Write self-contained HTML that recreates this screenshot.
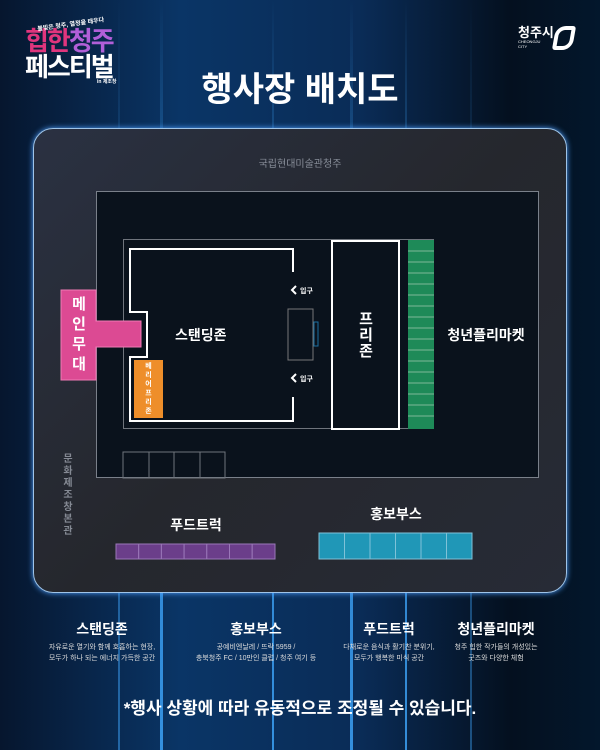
<!DOCTYPE html>
<html><head><meta charset="utf-8"><style>
*{margin:0;padding:0;box-sizing:border-box}
body{width:600px;height:750px;overflow:hidden;position:relative;background:linear-gradient(90deg,#06162e 0%,#0a3566 30%,#0a2c57 60%,#04101f 85%,#03172c 100%);font-family:"Liberation Sans","Noto Sans CJK KR",sans-serif;color:#fff}
.a{position:absolute}
.c{display:flex;align-items:center;justify-content:center}
.beam{position:absolute;top:0;height:750px;width:2px;background:linear-gradient(#3fa8ff00,#3fa8ffaa,#3fa8ffcc)}
.b{font-weight:bold}
</style></head><body>
<div class="beam" style="left:118px;opacity:.6"></div>
<div class="beam" style="left:160px;width:3px"></div>
<div class="beam" style="left:272px"></div>
<div class="beam" style="left:350px;width:3px"></div>
<div class="beam" style="left:405px"></div>
<div class="beam" style="left:470px;opacity:.5"></div>
<div class="a b" style="left:25px;top:20px;width:110px;line-height:1">
<div style="font-size:6px;color:#fff;margin-left:12px;transform:rotate(-8deg)">불빛은 청주, 열정을 태우다</div>
<div style="font-size:26px;color:#e0357d;letter-spacing:-2px;margin-top:2px">힙한<span style="color:#b15fd8">청주</span></div>
<div style="font-size:26px;color:#fff;letter-spacing:-2px">페스티벌</div>
<div style="font-size:5px;margin-left:72px">in 제조창</div>
</div>
<div class="a b" style="left:518px;top:22px;font-size:13px">청주시</div>
<div class="a" style="left:518px;top:39px;font-size:4px;line-height:5px">CHEONGJU<br>CITY</div>
<div class="a" style="left:554px;top:26px;width:20px;height:24px;border:4px solid #fff;border-radius:10px 3px 10px 3px;transform:skew(-10deg)"></div>
<div class="a b c" style="left:0;top:62px;width:600px;font-size:34px">행사장 배치도</div>
<div class="a" style="left:33px;top:128px;width:534px;height:465px;border-radius:20px;background:linear-gradient(135deg,#2a3142,#25272d 50%,#272b36);border:1.5px solid #9fc4e8;box-shadow:0 0 6px #4fa0ff"></div>
<div class="a c" style="left:33px;top:155px;width:534px;font-size:10px;color:#888e99">국립현대미술관청주</div>
<div class="a" style="left:96px;top:191px;width:443px;height:287px;background:#0a121c;border:1px solid #7a808a"></div>
<div class="a" style="left:123px;top:239px;width:311px;height:190px;border:1px solid #6f747c"></div>
<svg class="a" style="left:0;top:0" width="600" height="750">
<polyline points="293,272 293,249 130,249 130,312 147,312 147,357 130,357 130,421 293,421 293,397" fill="none" stroke="#fff" stroke-width="2"/>
<rect x="288" y="309" width="25" height="51" fill="none" stroke="#777" stroke-width="1"/>
<rect x="314" y="322" width="4" height="24" fill="none" stroke="#1b6fa0" stroke-width="1"/>
<path d="M296 286 l-4 4 4 4" fill="none" stroke="#fff" stroke-width="2"/>
<path d="M296 374 l-4 4 4 4" fill="none" stroke="#fff" stroke-width="2"/>
<rect x="332" y="241" width="67" height="188" fill="none" stroke="#fff" stroke-width="2"/>
<rect x="408" y="240" width="26" height="189" fill="#1e8a58"/>
<g stroke="#7fb898" stroke-width="1">
<line x1="408" y1="251" x2="434" y2="251"/><line x1="408" y1="262" x2="434" y2="262"/><line x1="408" y1="273" x2="434" y2="273"/><line x1="408" y1="284" x2="434" y2="284"/><line x1="408" y1="295" x2="434" y2="295"/><line x1="408" y1="306" x2="434" y2="306"/><line x1="408" y1="317" x2="434" y2="317"/><line x1="408" y1="328" x2="434" y2="328"/><line x1="408" y1="339" x2="434" y2="339"/><line x1="408" y1="350" x2="434" y2="350"/><line x1="408" y1="361" x2="434" y2="361"/><line x1="408" y1="372" x2="434" y2="372"/><line x1="408" y1="383" x2="434" y2="383"/><line x1="408" y1="394" x2="434" y2="394"/><line x1="408" y1="405" x2="434" y2="405"/><line x1="408" y1="416" x2="434" y2="416"/>
</g>
<g fill="none" stroke="#6f747c"><rect x="123" y="452" width="26" height="26"/><rect x="149" y="452" width="25" height="26"/><rect x="174" y="452" width="26" height="26"/><rect x="200" y="452" width="25" height="26"/></g>
<path d="M61 290 H96 V321 H141 V347 H96 V380 H61 Z" fill="#dc4a93" stroke="#f07ab5"/>
<rect x="134" y="360" width="29" height="58" fill="#ee8e2a"/>
<g stroke="#9a77b8" fill="#6b3e8a"><rect x="116" y="544" width="22.7" height="15"/><rect x="138.7" y="544" width="22.7" height="15"/><rect x="161.4" y="544" width="22.7" height="15"/><rect x="184.1" y="544" width="22.7" height="15"/><rect x="206.8" y="544" width="22.7" height="15"/><rect x="229.5" y="544" width="22.7" height="15"/><rect x="252.2" y="544" width="22.8" height="15"/></g>
<g stroke="#7fc2d8" fill="#2097b7"><rect x="319" y="533" width="25.5" height="26"/><rect x="344.5" y="533" width="25.5" height="26"/><rect x="370" y="533" width="25.5" height="26"/><rect x="395.5" y="533" width="25.5" height="26"/><rect x="421" y="533" width="25.5" height="26"/><rect x="446.5" y="533" width="25.5" height="26"/></g>
</svg>
<div class="a b" style="left:70px;top:295px;width:18px;font-size:15px;line-height:20px;text-align:center">메<br>인<br>무<br>대</div>
<div class="a b" style="left:141px;top:362px;width:15px;font-size:7px;line-height:9px;text-align:center">베<br>리<br>어<br>프<br>리<br>존</div>
<div class="a b" style="left:175px;top:325px;font-size:14px">스탠딩존</div>
<div class="a b" style="left:300px;top:286px;font-size:7px">입구</div>
<div class="a b" style="left:300px;top:374px;font-size:7px">입구</div>
<div class="a b" style="left:357px;top:312px;width:18px;font-size:15px;line-height:16px;text-align:center">프<br>리<br>존</div>
<div class="a b c" style="left:440px;top:325px;width:92px;font-size:14px">청년플리마켓</div>
<div class="a" style="left:61px;top:454px;width:14px;font-size:10px;line-height:12px;color:#858a94;text-align:center;font-weight:bold">문<br>화<br>제<br>조<br>창<br>본<br>관</div>
<div class="a b c" style="left:146px;top:515px;width:100px;font-size:14px">푸드트럭</div>
<div class="a b c" style="left:346px;top:504px;width:100px;font-size:14px">홍보부스</div>
<div class="a b c" style="left:42px;top:619px;width:120px;font-size:14px">스탠딩존</div>
<div class="a b c" style="left:196px;top:619px;width:120px;font-size:14px">홍보부스</div>
<div class="a b c" style="left:329px;top:619px;width:120px;font-size:14px">푸드트럭</div>
<div class="a b c" style="left:436px;top:619px;width:120px;font-size:14px">청년플리마켓</div>
<div class="a" style="left:42px;top:642px;width:120px;font-size:7px;line-height:11px;text-align:center;color:#ddd">자유로운 열기와 함께 호흡하는 현장,<br>모두가 하나 되는 에너지 가득한 공간</div>
<div class="a" style="left:186px;top:642px;width:140px;font-size:7px;line-height:11px;text-align:center;color:#ddd">공예비엔날레 / 뜨락 5959 /<br>충북청주 FC / 10만인 클럽 / 청주 여기 등</div>
<div class="a" style="left:329px;top:642px;width:120px;font-size:7px;line-height:11px;text-align:center;color:#ddd">다채로운 음식과 활기찬 분위기,<br>모두가 행복한 미식 공간</div>
<div class="a" style="left:436px;top:642px;width:120px;font-size:7px;line-height:11px;text-align:center;color:#ddd">청주 힙한 작가들의 개성있는<br>굿즈와 다양한 체험</div>
<div class="a b c" style="left:0;top:694px;width:600px;font-size:17px">*행사 상황에 따라 유동적으로 조정될 수 있습니다.</div>
</body></html>
